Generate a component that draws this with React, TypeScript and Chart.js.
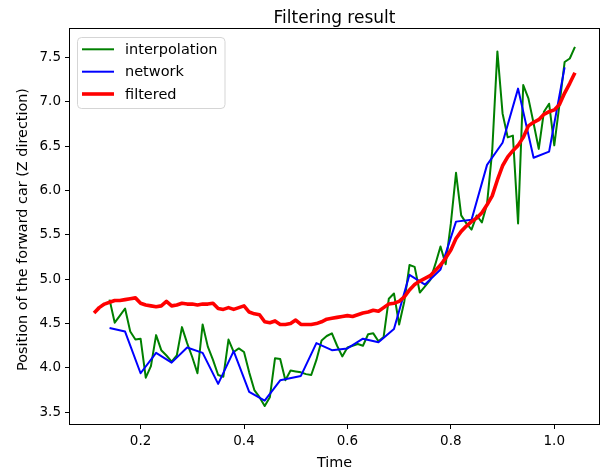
import { useEffect, useRef } from "react";
import { Chart, registerables } from "chart.js";

Chart.register(...registerables);

const titleText = "Filtering result";
const xLabel = "Time";
const yLabel = "Position of the forward car (Z direction)";
const seriesNames = ["interpolation", "network", "filtered"];

const interpX = [
  0.14, 0.15, 0.16, 0.17, 0.18, 0.19, 0.2, 0.21, 0.22, 0.23, 0.24, 0.25, 0.26, 0.27, 0.28, 0.29,
  0.3, 0.31, 0.32, 0.33, 0.34, 0.35, 0.36, 0.37, 0.38, 0.39, 0.4, 0.41, 0.42, 0.43, 0.44, 0.45,
  0.46, 0.47, 0.48, 0.49, 0.5, 0.51, 0.52, 0.53, 0.54, 0.55, 0.56, 0.57, 0.58, 0.59, 0.6, 0.61,
  0.62, 0.63, 0.64, 0.65, 0.66, 0.67, 0.68, 0.69, 0.7, 0.71, 0.72, 0.73, 0.74, 0.75, 0.76, 0.77,
  0.78, 0.79, 0.8, 0.81, 0.82, 0.83, 0.84, 0.85, 0.86, 0.87, 0.88, 0.89, 0.9, 0.91, 0.92, 0.93,
  0.94, 0.95, 0.96, 0.97, 0.98, 0.99, 1.0, 1.01, 1.02, 1.03, 1.04,
];
const interpY = [
  4.77, 4.51, 4.59, 4.67, 4.41, 4.32, 4.33, 3.89, 4.02, 4.37, 4.2, 4.14, 4.07, 4.14, 4.46, 4.28,
  4.12, 3.94, 4.49, 4.24, 4.09, 3.92, 3.9, 4.32, 4.18, 4.22, 4.18, 3.95, 3.75, 3.67, 3.57, 3.67,
  4.11, 4.1, 3.86, 3.97, 3.96, 3.95, 3.93, 3.92, 4.09, 4.31, 4.36, 4.39, 4.25, 4.13, 4.23, 4.25,
  4.27, 4.25, 4.38, 4.39, 4.3, 4.35, 4.78, 4.84, 4.49, 4.75, 5.16, 5.14, 4.85, 4.92, 4.99, 5.17,
  5.37, 5.17, 5.63, 6.2, 5.72, 5.63, 5.56, 5.72, 5.64, 5.85, 6.45, 7.57, 6.87, 6.6, 6.62, 5.63,
  7.19, 7.04, 6.76, 6.47, 6.89, 6.98, 6.51, 6.97, 7.45, 7.49, 7.62,
];

const networkX = [
  0.14, 0.17, 0.2, 0.23, 0.26, 0.29, 0.32, 0.35, 0.38, 0.41, 0.44, 0.47, 0.51, 0.54, 0.57, 0.6,
  0.63, 0.66, 0.69, 0.72, 0.75, 0.78, 0.81, 0.84, 0.87, 0.9, 0.93, 0.96, 0.99, 1.02,
];
const networkY = [
  4.45, 4.41, 3.94, 4.17, 4.06, 4.23, 4.17, 3.82, 4.19, 3.73, 3.63, 3.86, 3.91, 4.28, 4.2, 4.22,
  4.33, 4.29, 4.44, 5.05, 4.94, 5.11, 5.65, 5.67, 6.29, 6.54, 7.15, 6.37, 6.44, 7.39,
];

const filteredX = [
  0.11, 0.12, 0.13, 0.14, 0.15, 0.16, 0.17, 0.18, 0.19, 0.2, 0.21, 0.22, 0.23, 0.24, 0.25, 0.26,
  0.27, 0.28, 0.29, 0.3, 0.31, 0.32, 0.33, 0.34, 0.35, 0.36, 0.37, 0.38, 0.39, 0.4, 0.41, 0.42,
  0.43, 0.44, 0.45, 0.46, 0.47, 0.48, 0.49, 0.5, 0.51, 0.52, 0.53, 0.54, 0.55, 0.56, 0.57, 0.58,
  0.59, 0.6, 0.61, 0.62, 0.63, 0.64, 0.65, 0.66, 0.67, 0.68, 0.69, 0.7, 0.71, 0.72, 0.73, 0.74,
  0.75, 0.76, 0.77, 0.78, 0.79, 0.8, 0.81, 0.82, 0.83, 0.84, 0.85, 0.86, 0.87, 0.88, 0.89, 0.9,
  0.91, 0.92, 0.93, 0.94, 0.95, 0.96, 0.97, 0.98, 0.99, 1.0, 1.01, 1.02, 1.03, 1.04,
];
const filteredY = [
  4.62, 4.68, 4.72, 4.74, 4.76, 4.76, 4.77, 4.78, 4.79, 4.73, 4.71, 4.7, 4.69, 4.7, 4.75, 4.7,
  4.71, 4.73, 4.72, 4.72, 4.71, 4.72, 4.72, 4.73, 4.67, 4.66, 4.68, 4.66, 4.68, 4.7, 4.63, 4.61,
  4.6, 4.52, 4.51, 4.53, 4.49, 4.49, 4.5, 4.54, 4.49, 4.49, 4.49, 4.5, 4.52, 4.55, 4.56, 4.57,
  4.58, 4.59, 4.58, 4.6, 4.62, 4.63, 4.65, 4.64, 4.68, 4.72, 4.73, 4.75, 4.8, 4.88, 4.94, 4.98,
  5.01, 5.04, 5.1, 5.16, 5.24, 5.33, 5.46, 5.54, 5.6, 5.65, 5.69, 5.75, 5.84, 5.94, 6.12, 6.28,
  6.38, 6.45, 6.51, 6.6, 6.73, 6.77, 6.8, 6.86, 6.89, 6.91, 6.97, 7.1, 7.21, 7.33,
];

const xTicks = [0.2, 0.4, 0.6, 0.8, 1.0];
const yTicks = [3.5, 4.0, 4.5, 5.0, 5.5, 6.0, 6.5, 7.0, 7.5];
const xLimits = [0.0635, 1.0865];
const yLimits = [3.3675, 7.8225];

const seriesColors = ["#008000", "#0000ff", "#ff0000"];
const seriesWidths = [2, 2, 3.6];
const FONT = "'DejaVu Sans', sans-serif";

const overlayPlugin = {
  id: "mplOverlay",
  afterDraw(chart: any) {
    const { ctx, chartArea: a } = chart;
    ctx.save();
    // frame (all four spines)
    ctx.strokeStyle = "#000";
    ctx.lineWidth = 1;
    ctx.strokeRect(a.left - 0.5, a.top - 0.5, a.right - a.left + 1, a.bottom - a.top + 1);

    ctx.fillStyle = "#000";
    // title
    ctx.font = `17px ${FONT}`;
    ctx.textAlign = "center";
    ctx.textBaseline = "alphabetic";
    ctx.fillText(titleText, (a.left + a.right) / 2, 22.5);
    // x label
    ctx.font = `14.4px ${FONT}`;
    ctx.fillText(xLabel, (a.left + a.right) / 2, 467);
    // y label
    ctx.save();
    ctx.translate(27, (a.top + a.bottom) / 2 + 3);
    ctx.rotate(-Math.PI / 2);
    ctx.font = `14.4px ${FONT}`;
    ctx.fillText(yLabel, 0, 0);
    ctx.restore();

    // legend
    const bx = 77.5, by = 37.5, bw = 147.5, bh = 71, r = 4;
    ctx.beginPath();
    ctx.moveTo(bx + r, by);
    ctx.lineTo(bx + bw - r, by);
    ctx.quadraticCurveTo(bx + bw, by, bx + bw, by + r);
    ctx.lineTo(bx + bw, by + bh - r);
    ctx.quadraticCurveTo(bx + bw, by + bh, bx + bw - r, by + bh);
    ctx.lineTo(bx + r, by + bh);
    ctx.quadraticCurveTo(bx, by + bh, bx, by + bh - r);
    ctx.lineTo(bx, by + r);
    ctx.quadraticCurveTo(bx, by, bx + r, by);
    ctx.closePath();
    ctx.fillStyle = "rgba(255,255,255,0.8)";
    ctx.fill();
    ctx.strokeStyle = "#d5d5d5";
    ctx.lineWidth = 1;
    ctx.stroke();

    const rows = [49.3, 71.7, 94];
    ctx.font = `14.5px ${FONT}`;
    ctx.textAlign = "left";
    ctx.textBaseline = "middle";
    seriesNames.forEach((name, i) => {
      ctx.beginPath();
      ctx.strokeStyle = seriesColors[i];
      ctx.lineWidth = seriesWidths[i];
      ctx.moveTo(82, rows[i]);
      ctx.lineTo(114, rows[i]);
      ctx.stroke();
      ctx.fillStyle = "#000";
      ctx.fillText(name, 125, rows[i] + 1);
    });
    ctx.restore();
  },
};

export default function App() {
  const ref = useRef<HTMLCanvasElement>(null);

  useEffect(() => {
    if (!ref.current) return;
    const xs = [interpX, networkX, filteredX];
    const ys = [interpY, networkY, filteredY];
    const orders = [3, 2, 1];
    const chart = new Chart(ref.current, {
      type: "line",
      data: {
        datasets: seriesNames.map((name, i) => ({
          label: name,
          data: xs[i].map((x, j) => ({ x, y: ys[i][j] })),
          borderColor: seriesColors[i],
          backgroundColor: seriesColors[i],
          borderWidth: seriesWidths[i],
          pointRadius: 0,
          tension: 0,
          fill: false,
          borderJoinStyle: "round" as const,
          borderCapStyle: "butt" as const,
          order: orders[i],
        })),
      },
      options: {
        animation: false,
        responsive: false,
        devicePixelRatio: 1,
        layout: { padding: { left: 0, top: 29, right: 7, bottom: 0 } },
        plugins: {
          legend: { display: false },
          title: { display: false },
          tooltip: { enabled: false },
        },
        scales: {
          x: {
            type: "linear",
            min: xLimits[0],
            max: xLimits[1],
            afterBuildTicks: (s: any) => {
              s.ticks = xTicks.map((v) => ({ value: v }));
            },
            afterFit: (s: any) => {
              s.height = 46;
            },
            grid: {
              drawOnChartArea: false,
              drawTicks: true,
              tickLength: 5,
              tickColor: "#000",
              tickWidth: 1,
            },
            border: { display: false },
            ticks: {
              color: "#000",
              font: { family: FONT, size: 13.5 },
              padding: 4,
              maxRotation: 0,
              autoSkip: false,
              callback: (v: any) => Number(v).toFixed(1),
            },
          },
          y: {
            type: "linear",
            min: yLimits[0],
            max: yLimits[1],
            afterBuildTicks: (s: any) => {
              s.ticks = yTicks.map((v) => ({ value: v }));
            },
            afterFit: (s: any) => {
              s.width = 70;
            },
            grid: {
              drawOnChartArea: false,
              drawTicks: true,
              tickLength: 5,
              tickColor: "#000",
              tickWidth: 1,
            },
            border: { display: false },
            ticks: {
              color: "#000",
              font: { family: FONT, size: 13.5 },
              padding: 4,
              autoSkip: false,
              callback: (v: any) => Number(v).toFixed(1),
            },
          },
        },
      },
      plugins: [overlayPlugin],
    });
    return () => chart.destroy();
  }, []);

  return (
    <div style={{ position: "fixed", left: 0, top: 0, width: 606, height: 470, background: "#fff" }}>
      <canvas ref={ref} width={606} height={470} style={{ display: "block", width: 606, height: 470 }} />
    </div>
  );
}
